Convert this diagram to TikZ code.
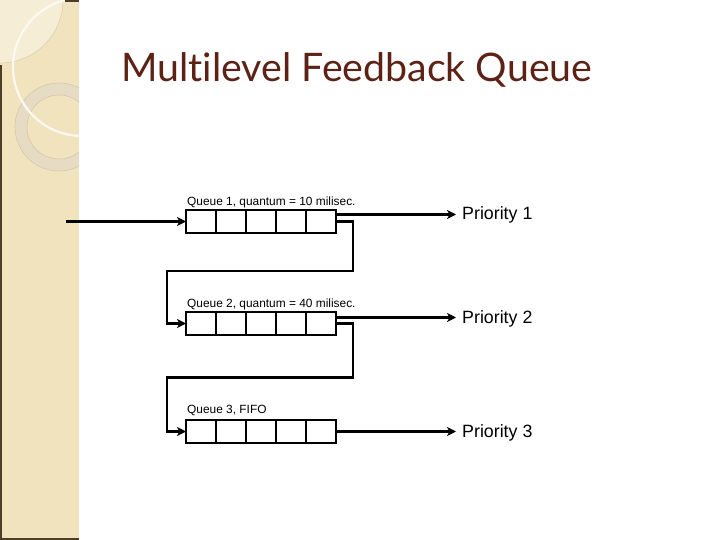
\documentclass[tikz,border=0pt]{standalone}
\usepackage{fontspec}
\setmainfont{Liberation Sans}
\newfontfamily\titlefont[Ligatures={NoCommon}]{Lato}
\usetikzlibrary{arrows.meta}
\definecolor{side}{RGB}{241,227,190}
\definecolor{sidelight}{RGB}{246,237,214}
\definecolor{sideedge}{RGB}{222,208,174}
\definecolor{ringc}{RGB}{230,220,196}
\definecolor{ringedge}{RGB}{214,200,168}
\definecolor{darkedge}{RGB}{78,62,40}
\definecolor{titlec}{RGB}{92,34,22}
\tikzset{
  conn/.style={line width=2.3pt, line join=miter},
  arr/.style={conn, -{Stealth[length=9pt,width=9pt,inset=2.5pt]}},
  queuebox/.style={draw, line width=2.3pt, minimum width=150pt, minimum height=23pt, inner sep=0pt, outer sep=0pt},
  qlabel/.style={anchor=base west, inner sep=0pt, font=\fontsize{11.9}{13}\selectfont},
  prio/.style={anchor=base west, inner sep=0pt, font=\fontsize{17.8}{19}\selectfont}
}
\begin{document}
\begin{tikzpicture}[x=1pt,y=-1pt]
\useasboundingbox (0,0) rectangle (720,540);
\fill[white] (0,0) rectangle (720,540);
% sidebar
\fill[side] (0,0) rectangle (79,540);
\begin{scope}
  \clip (0,0) rectangle (79,540);
  \fill[sidelight] (0,0) circle[radius=63];
  \draw[sideedge, line width=0.6pt] (0,0) circle[radius=63];
  \fill[ringc, even odd rule] (59,127) circle[radius=44] (59,127) circle[radius=32];
  \draw[ringedge, line width=0.6pt] (59,127) circle[radius=44] (59,127) circle[radius=32];
  \draw[white!80!side, line width=2.2pt] (82,67) circle[radius=69];
\end{scope}
\fill[darkedge] (0,65) rectangle (1.6,540);
\fill[darkedge] (0,538.4) rectangle (79,540);
\fill[darkedge] (65,0) rectangle (79,1.6);
% title
\node[anchor=base west, text=titlec, inner sep=0pt, font=\titlefont\fontsize{39.3}{40}\selectfont] (title) at (121,81.7) {Multilevel Feedback Queue};
% queues
\node[queuebox] (q1) at (261,221.5) {};
\node[queuebox] (q2) at (261,323.5) {};
\node[queuebox] (q3) at (261,431.5) {};
\foreach \q in {q1,q2,q3}{
  \foreach \i in {1,...,4}{
    \draw[conn] ([xshift={\i*30pt}]\q.north west) -- ([xshift={\i*30pt}]\q.south west);
  }
}
% labels
\node[qlabel] (l1) at (187,206) {Queue 1, quantum = 10 milisec.};
\node[qlabel] (l2) at (187,307) {Queue 2, quantum = 40 milisec.};
\node[qlabel] (l3) at (187,413) {Queue 3, FIFO};
% priorities
\node[prio] (p1) at (462,220) {Priority 1};
\node[prio] (p2) at (462,323) {Priority 2};
\node[prio] (p3) at (462,437) {Priority 3};
% input
\coordinate (in) at (66,221.5);
\draw[arr] (in) -- (q1.west);
% outputs
\draw[arr] ([yshift=7pt]q1.east) -- ([yshift=7pt,xshift=-6pt]q1.east -| p1.west);
\draw[arr] ([yshift=6pt]q2.east) -- ([yshift=6pt,xshift=-6pt]q2.east -| p2.west);
\draw[arr] (q3.east) -- ([xshift=-6pt]q3.east -| p3.west);
% feedback
\draw[arr] (q1.east) -- ++(17,0) -- ++(0,49.5) -| ([xshift=-19pt]q2.west) -- (q2.west);
\draw[arr] (q2.east) -- ++(17,0) -- ++(0,54) -| ([xshift=-19pt]q3.west) -- (q3.west);
\end{tikzpicture}
\end{document}
